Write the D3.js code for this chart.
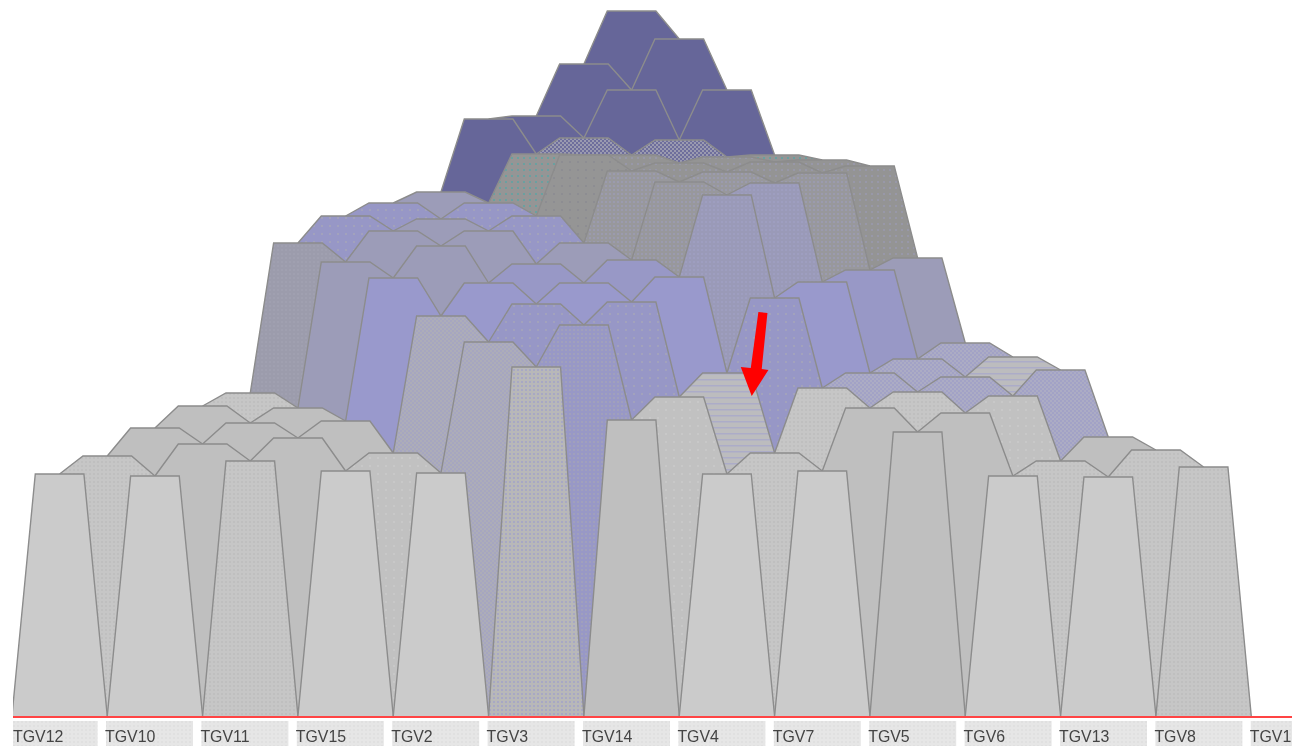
<!DOCTYPE html>
<html>
<head>
<meta charset="utf-8">
<script src="https://cdn.jsdelivr.net/npm/d3@7"></script>
<style>
html,body{margin:0;padding:0;background:#fff;overflow:hidden}
svg{display:block}
</style>
</head>
<body>
<div id="chart"></div>
<script>
// Marker labels along the front of the triangle
const markers = ["TGV12","TGV10","TGV11","TGV15","TGV2","TGV3","TGV14","TGV4","TGV7","TGV5","TGV6","TGV13","TGV8","TGV1"];

// Heights, one list per pair-distance (front row first)
const row0  = [242,240,255,245,243,349,296,242,245,284,240,239,249];
const row1  = [260,272,278,263,374,391,319,263,308,303,255,266];
const row2  = [288,293,295,400,412,414,343,328,324,320,279];
const row3  = [310,308,438,433,433,439,418,343,339,346];
const row4  = [323,454,470,452,456,521,434,357,359];
const row5  = [473,485,485,473,534,533,446,373];
const row6  = [500,497,500,545,544,543,458];
const row7  = [513,513,561,553,554,550];
const row8  = [524,562,561,559,556];
const row9  = [597,578,576,561];
const row10 = [600,626,626];
const row11 = [652,677];
const row12 = [705];
const heights = [row0,row1,row2,row3,row4,row5,row6,row7,row8,row9,row10,row11,row12];

// Category of each cell (maps onto a material below)
const cat0  = "A A D A A Q B A A B A A D".split(" ");
const cat1  = "D B B C R G C D B B D D".split(" ");
const cat2  = "B B B R F F N D D C B".split(" ");
const cat3  = "B B E E E E F P P P".split(" ");
const cat4  = "D S S T T U E P N".split(" ");
const cat5  = "V S S S W U T P".split(" ");
const cat6  = "F S F W W W S".split(" ");
const cat7  = "F F J X X X".split(" ");
const cat8  = "S K X X X".split(" ");
const cat9  = "L M M K".split(" ");
const cat10 = "L L L".split(" ");
const cat11 = "L L".split(" ");
const cat12 = "L".split(" ");
const cats = [cat0,cat1,cat2,cat3,cat4,cat5,cat6,cat7,cat8,cat9,cat10,cat11,cat12];

// Red arrow annotation, in chart units [position, height]
const arrowShape = [[14.66,404],[14.85,403],[14.73,347],[14.87,346],[14.52,320],[14.29,349],[14.50,348]];

// Materials: base colour, dot colour, tile size, kind
const materials = {
  A:["#cbcbcb"], B:["#bfbfbf"],
  C:["#c1c1c1","#c8c8c8",8,"dot"],
  D:["#c6c6c6","#bfbfbf",4,"dot"],
  Q:["#b8b8b8","#a8a8c4",4,"dot"],
  R:["#a6a6c0","#adadb8",4,"check"],
  G:["#9898c6","#a0a0bc",4,"dot"],
  F:["#9797c6","#a2a2bc",8,"dot"],
  E:["#9999cc"],
  N:["#bcbcbe","#acacc8",6,"hatch"],
  P:["#acacc4","#a2a2c6",4,"check"],
  S:["#9c9cb8"],
  T:["#9898c6"],
  U:["#9a9ab8","#9e9ec0",4,"dot"],
  V:["#9c9cac","#a0a0b0",4,"dot"],
  W:["#98989c","#9b9bae",4,"dot"],
  J:["#959595","#8d8d92",8,"dot"],
  X:["#949494","#9898a8",6,"dot"],
  K:["#959595","#6aa0a0",6,"dot"],
  L:["#666699"],
  M:["#6e6e9c","#9a9ab0",4,"check"]
};

const W = 1292, H = 746, LEFT = 13;
const x = d3.scaleLinear().domain([0,24]).range([59.6,1203.6]);
const y = d3.scaleLinear().domain([0,705]).range([716,11]);
const label = d3.scalePoint().domain(markers).range([9.6,9.6+95.4*13]);

const svg = d3.select("#chart").append("svg").attr("width",W).attr("height",H);
const defs = svg.append("defs");
defs.append("clipPath").attr("id","plot").append("rect").attr("x",LEFT).attr("y",0).attr("width",W-LEFT).attr("height",716.5);

Object.entries(materials).forEach(([id,m])=>{
  if(m.length===1) return;
  const [base,dot,t,kind] = m;
  const p = defs.append("pattern").attr("id","m"+id).attr("patternUnits","userSpaceOnUse")
    .attr("width",t).attr("height",t);
  p.append("rect").attr("width",t).attr("height",t).attr("fill",base);
  if(kind==="dot"){
    p.append("rect").attr("x",1).attr("y",1).attr("width",2).attr("height",2).attr("fill",dot);
  } else if(kind==="check"){
    p.append("rect").attr("x",0).attr("y",0).attr("width",2).attr("height",2).attr("fill",dot);
    p.append("rect").attr("x",2).attr("y",2).attr("width",2).attr("height",2).attr("fill",dot);
  } else {
    p.append("rect").attr("x",0).attr("y",1).attr("width",t).attr("height",1.5).attr("fill",dot);
  }
});
const paint = c => materials[c].length===1 ? materials[c][0] : `url(#m${c})`;

// Build cells: row r, column position k = r + 2*i
const cells = [];
heights.forEach((vals,r)=>vals.forEach((v,i)=>{
  const k = r + 2*i;
  const left  = r===0 ? 0 : heights[r-1][i];
  const right = r===0 ? 0 : heights[r-1][i+1];
  cells.push({r,k,v,left,right,cat:cats[r][i]});
}));
cells.sort((a,b)=>d3.descending(a.r,b.r));

const line = d3.line().x(d=>x(d[0])).y(d=>y(d[1]));
const TOP = 0.51;
const soft = svg.append("g").style("filter","blur(0.45px)");

const cell = soft.append("g").attr("clip-path","url(#plot)").selectAll("g").data(cells).join("g");
cell.append("path")
  .attr("d",d=>line([[d.k-1,0],[d.k-1,d.left],[d.k-TOP,d.v],[d.k+TOP,d.v],[d.k+1,d.right],[d.k+1,0]])+"Z")
  .attr("fill",d=>paint(d.cat));
cell.append("path")
  .attr("d",d=>line([[d.k-1,d.left],[d.k-TOP,d.v],[d.k+TOP,d.v],[d.k+1,d.right]]))
  .attr("fill","none").attr("stroke","#8c8c8c").attr("stroke-width",1.4);

// Arrow
soft.append("path").attr("d",line(arrowShape)+"Z").attr("fill","#ff0000");

// Baseline and labels
defs.append("pattern").attr("id","lab").attr("patternUnits","userSpaceOnUse").attr("width",4).attr("height",4)
  .call(p=>{p.append("rect").attr("width",4).attr("height",4).attr("fill","#e6e6e6");
            p.append("rect").attr("x",1).attr("y",1).attr("width",2).attr("height",2).attr("fill","#e0e0e0");});
soft.append("line").attr("x1",LEFT).attr("x2",W).attr("y1",y(0)+1).attr("y2",y(0)+1)
  .attr("stroke","#ff4444").attr("stroke-width",2);
const boxLeft = d => Math.max(LEFT, label(d)+1);
const lab = soft.append("g").selectAll("g").data(markers).join("g");
lab.append("rect").attr("x",boxLeft).attr("y",721)
  .attr("width",d=>Math.min(W, label(d)+88)-boxLeft(d)).attr("height",25).attr("fill","url(#lab)");
lab.append("text").attr("x",d=>Math.max(LEFT,label(d))).attr("y",742).text(d=>d)
  .attr("font-family","'Liberation Sans',Arial,sans-serif").attr("font-size",15.9).attr("fill","#444444");
</script>
</body>
</html>
